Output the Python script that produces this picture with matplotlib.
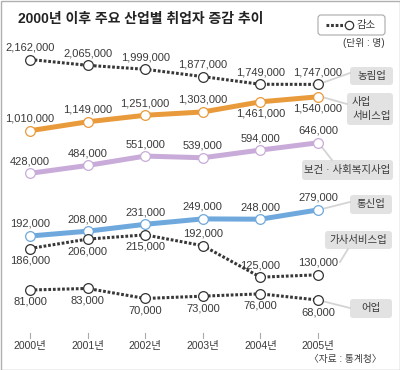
import matplotlib
matplotlib.use("Agg")
import matplotlib.pyplot as plt
from matplotlib.patches import FancyBboxPatch, Rectangle

plt.rcParams['font.family'] = ['Liberation Sans Narrow', 'Liberation Sans', 'Noto Sans CJK KR']

# 데이터
years = ['2000년', '2001년', '2002년', '2003년', '2004년', '2005년']
farm = [2162000, 2065000, 1999000, 1877000, 1749000, 1747000]
business = [1010000, 1149000, 1251000, 1303000, 1461000, 1540000]
health = [428000, 484000, 551000, 539000, 594000, 646000]
telecom = [192000, 208000, 231000, 249000, 248000, 279000]
household = [186000, 206000, 215000, 192000, 125000, 130000]
fishery = [81000, 83000, 70000, 73000, 76000, 68000]

TXT = '#3a3a3a'
DOT = '#383838'
BOX = '#e2e2e2'
PTR = '#d4d4d4'

fig = plt.figure(figsize=(4, 3.7), dpi=100)
ax = fig.add_axes([0, 0, 1, 1])
ax.set_xlim(0, 400)
ax.set_ylim(370, 0)
ax.axis('off')

X0, DX = 30, 57.6
xs = [X0 + i * DX for i in range(len(years))]

# 시리즈마다 따로 놓인 띠 (첫 값의 y 위치, 천 명당 px)
series = [
    # values, y0, px/1000, color, dotted, label side
    (farm, 59.5, 0.060, DOT, True, 'aaaaaa'),
    (business, 130.7, 0.064, '#e99a3b', False, 'aaaabb'),
    (health, 173.3, 0.140, '#c8abd9', False, 'aaaaaa'),
    (telecom, 236.0, 0.300, '#6ea8dc', False, 'aaaaaa'),
    (household, 248.5, 0.470, DOT, True, 'bbbaaa'),
    (fishery, 290.0, 0.770, DOT, True, 'bbbbbb'),
]

for vals, y0, k, col, dotted, sides in series:
    ys = [y0 - (v - vals[0]) / 1000 * k for v in vals]
    if dotted:
        ax.plot(xs, ys, color=col, lw=2.2, ls=(0, (0.9, 0.6)),
                dash_capstyle='butt', zorder=2)
        mec = '#333333'
    else:
        ax.plot(xs, ys, color=col, lw=3.6, solid_capstyle='butt', zorder=2)
        mec = col
    ax.plot(xs, ys, 'o', ms=7, mfc='white', mec=mec, mew=0.9, zorder=3)
    for x, y, v, s in zip(xs, ys, vals, sides):
        dy = -12 if s == 'a' else 12
        ax.text(x, y + dy, f'{v:,}', ha='center', va='center',
                fontsize=8, color=TXT, zorder=4)

# 산업 이름 상자
def tag(x, y, w, h, text, ha='center'):
    ax.add_patch(FancyBboxPatch((x, y), w, h, boxstyle='round,pad=0,rounding_size=3',
                                fc=BOX, ec='none', zorder=1))
    tx = x + w / 2 if ha == 'center' else x + 5
    ax.text(tx, y + h / 2, text, ha=ha, va='center', fontsize=7.5,
            color=TXT, linespacing=1.5, zorder=4)

def pointer(x1, y1, x2, y2):
    ax.plot([x1, x2], [y1, y2], color=PTR, lw=1.3, zorder=1)

tag(350, 67, 43, 18, '농림업')
pointer(322, 83, 350, 73)
tag(347, 93, 46, 32, '사업\n서비스업', ha='left')
pointer(322, 97, 347, 104)
tag(302, 160, 91, 20, '보건 · 사회복지사업')
pointer(321, 146, 332, 160)
tag(350, 195, 42, 19, '통신업')
pointer(322, 209, 350, 202)
tag(325, 231, 67, 18, '가사서비스업')
pointer(340, 262, 348, 249)
tag(350, 299, 42, 19, '어업')
pointer(322, 301, 350, 308)

# x축 눈금
for x, lab in zip(xs, years):
    ax.plot([x, x], [333, 338], color='#aaaaaa', lw=0.8)
    ax.text(x, 346, lab, ha='center', va='center', fontsize=7.5, color=TXT)

# 제목, 범례, 단위, 출처
ax.text(18, 19, '2000년 이후 주요 산업별 취업자 증감 추이', ha='left', va='center',
        fontsize=10, fontweight='bold', color='#222222')
ax.add_patch(FancyBboxPatch((318, 15), 67, 20, boxstyle='round,pad=0,rounding_size=3',
                            fc='white', ec='#aaaaaa', lw=0.8))
ax.plot([326, 346], [25, 25], color=DOT, lw=2.2, ls=(0, (0.9, 0.6)), dash_capstyle='butt')
ax.plot([349], [25], 'o', ms=6, mfc='white', mec='#333333', mew=0.9)
ax.text(357, 25, '감소', ha='left', va='center', fontsize=7.5, color=TXT)
ax.text(385, 43, '(단위 : 명)', ha='right', va='center', fontsize=7, color=TXT)
ax.text(382, 359, '〈자료 : 통계청〉', ha='right', va='center', fontsize=7, color=TXT)

ax.add_patch(Rectangle((0.5, 0.5), 399, 369, fill=False, ec='#b0b0b0', lw=1))

fig.savefig('out.png', dpi=100)
